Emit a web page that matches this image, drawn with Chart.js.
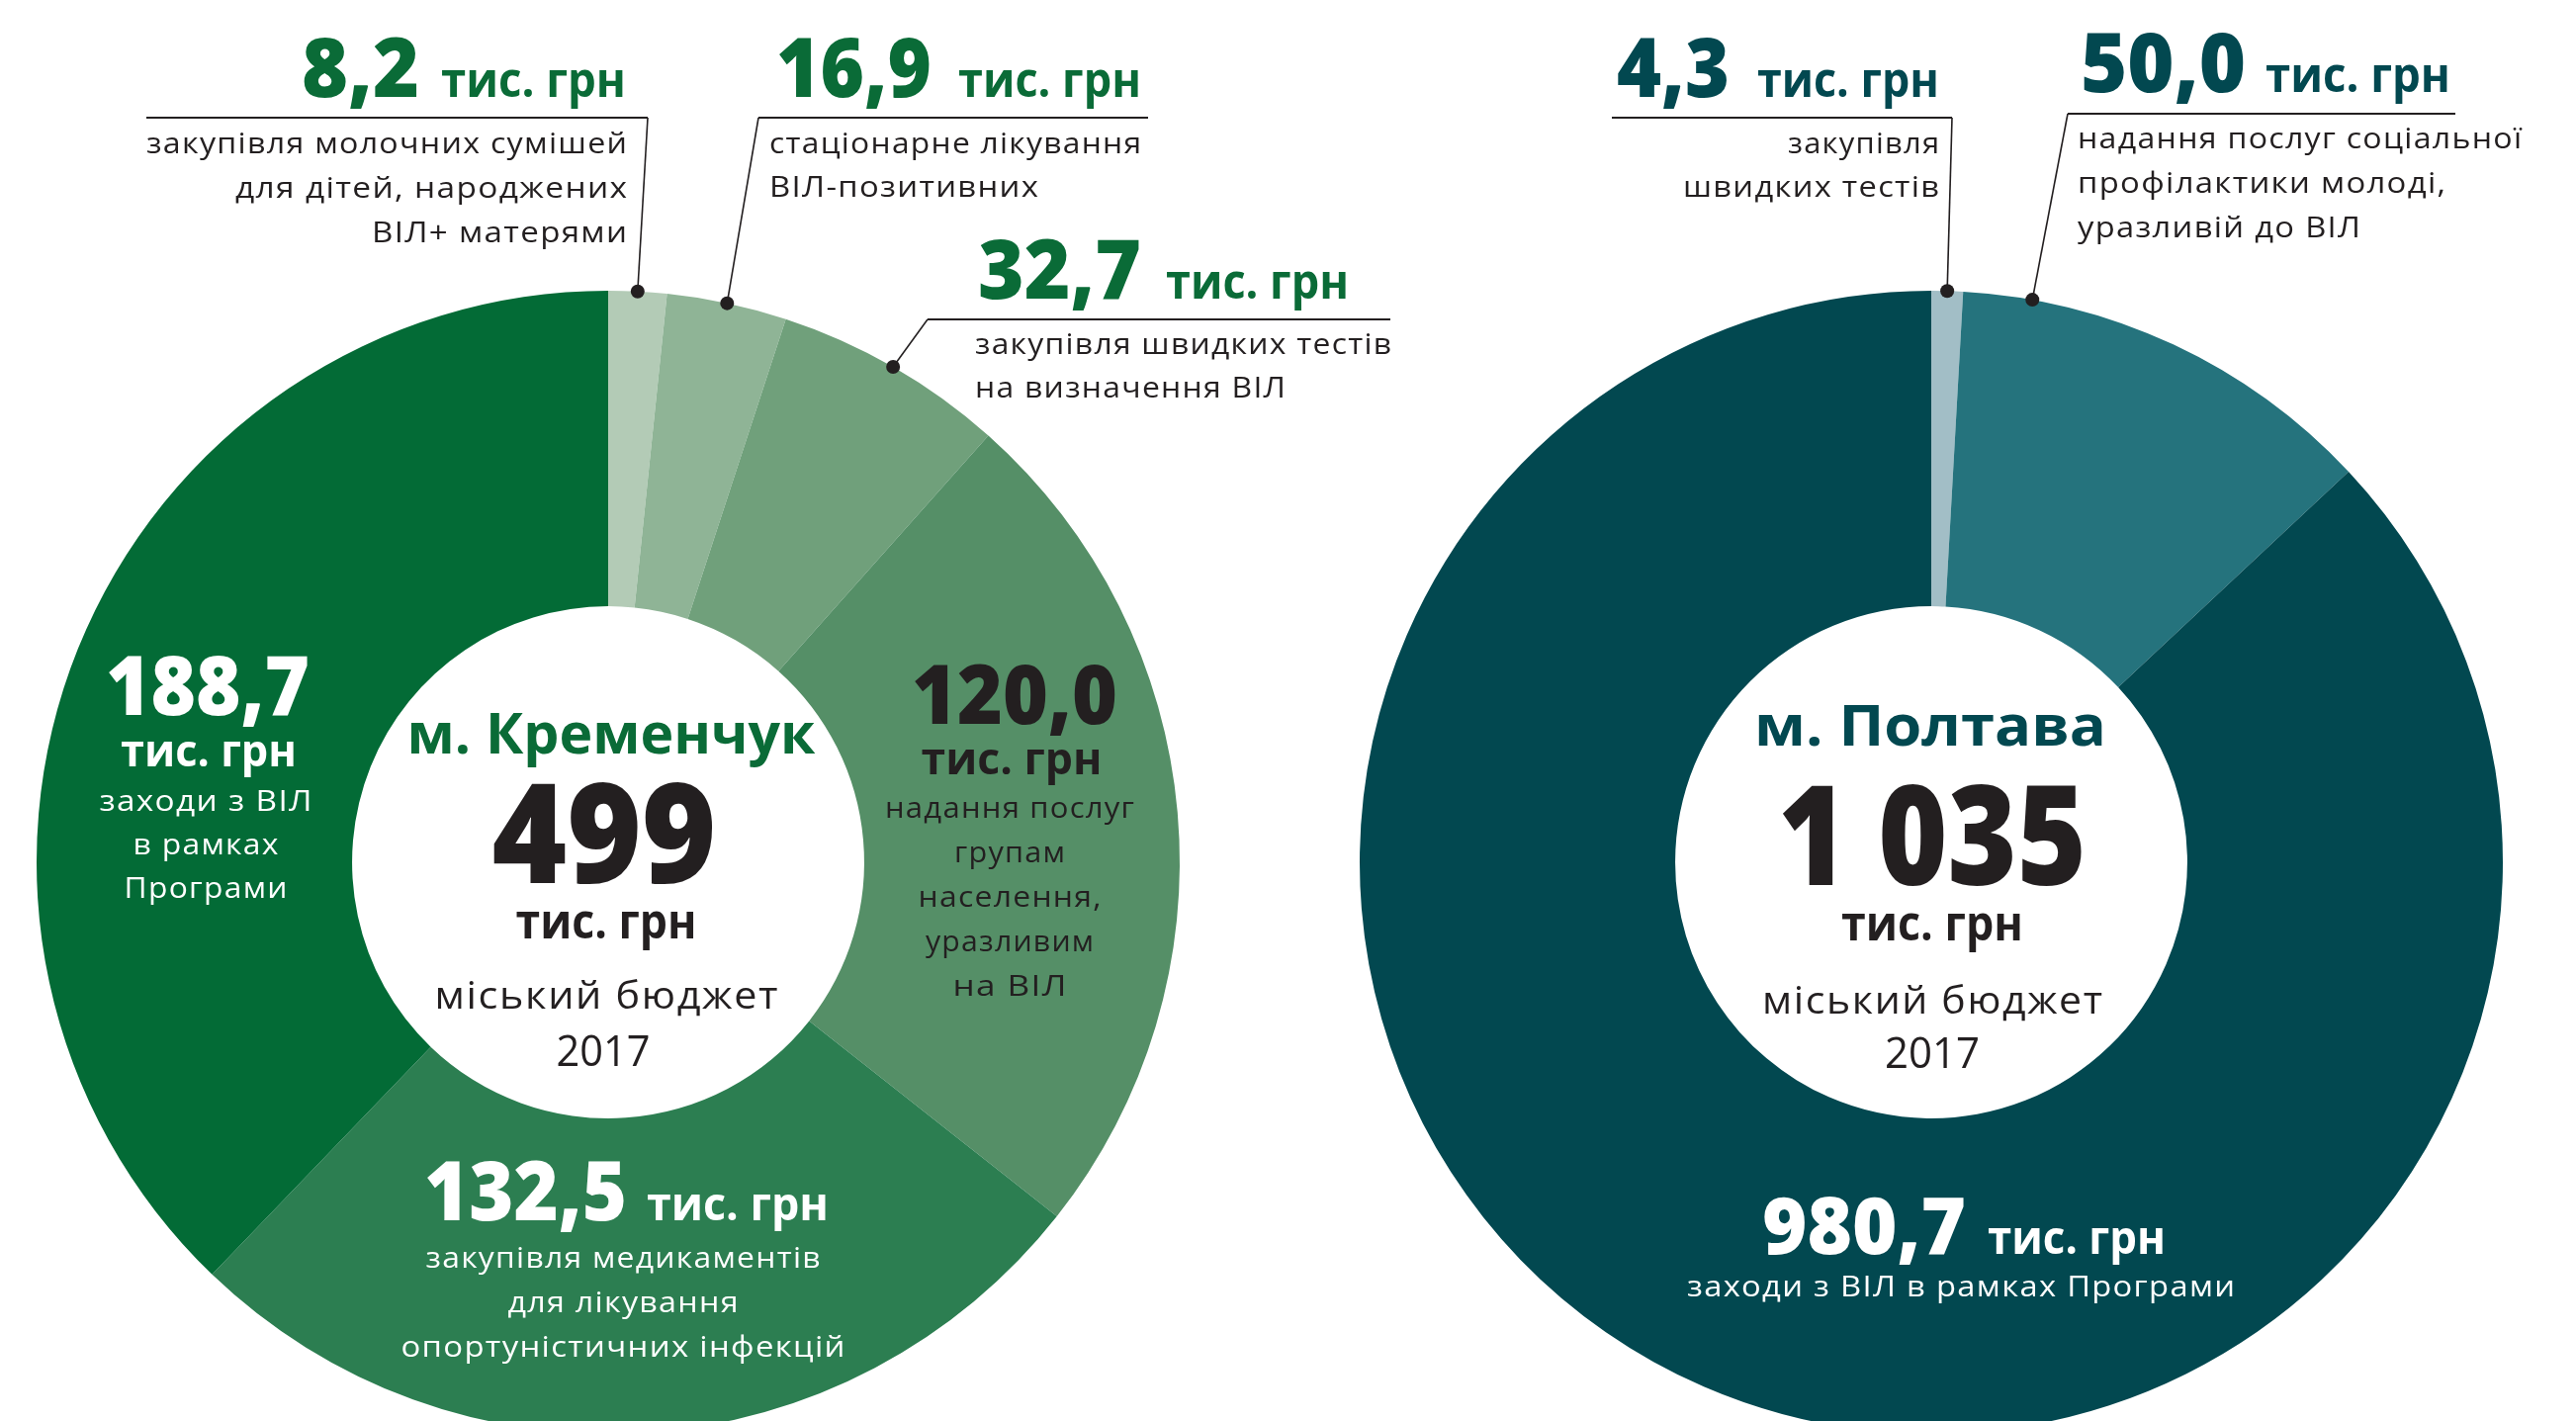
<!DOCTYPE html>
<html>
<head>
<meta charset="utf-8">
<script src="https://cdn.jsdelivr.net/npm/chart.js@4.4.1/dist/chart.umd.min.js"></script>
<style>
  html, body { margin: 0; padding: 0; background: #fff; overflow: hidden; }
  #page { position: relative; width: 2605px; height: 1437px; overflow: hidden; background: #fff; }
  canvas { position: absolute; top: 0; }
</style>
</head>
<body>
<div id="page">
  <canvas id="kremenchuk" width="1500" height="1500" style="left:0;width:1500px;height:1500px"></canvas>
  <canvas id="poltava" width="1305" height="1500" style="left:1300px;width:1305px;height:1500px"></canvas>
</div>
<script>
// ---- data ----
const cityNames = ['м. Кременчук', 'м. Полтава'];
const unitLabel = 'тис. грн';
const budgetLabel = 'міський бюджет';
const budgetYear = '2017';

const kremenchukCategories = [
  ['закупівля молочних сумішей', 'для дітей, народжених', 'ВІЛ+ матерями'],
  ['стаціонарне лікування', 'ВІЛ-позитивних'],
  ['закупівля швидких тестів', 'на визначення ВІЛ'],
  ['надання послуг', 'групам', 'населення,', 'уразливим', 'на ВІЛ'],
  ['закупівля медикаментів', 'для лікування', 'опортуністичних інфекцій'],
  ['заходи з ВІЛ', 'в рамках', 'Програми']
];
const kremenchukValues = [8.2, 16.9, 32.7, 120.0, 132.5, 188.7];

const poltavaCategories = [
  ['закупівля', 'швидких тестів'],
  ['надання послуг соціальної', 'профілактики молоді,', 'уразливій до ВІЛ'],
  ['заходи з ВІЛ в рамках Програми']
];
const poltavaValues = [4.3, 50.0, 980.7];
// the source draws Poltava's slices off-scale, so the arcs use the angles (degrees)
const poltavaArcShare = [3.2, 43.7, 313.1];

// ---- styles ----
const kremenchukColors = ['#b3cbb6', '#8fb496', '#70a07b', '#558f67', '#2c7e51', '#036b36'];
const poltavaColors = ['#a2bec6', '#25737d', '#024850'];
const GREEN = '#0a6b37', TEAL = '#024850', INK = '#231f20', WHITE = '#ffffff';
const FAMILY = '"Open Sans", "Noto Sans", "DejaVu Sans", sans-serif';

function fmt(v) { return v.toFixed(1).replace('.', ','); }
function fmtTotal(v) { return Math.round(v).toString().replace(/\B(?=(\d{3})+(?!\d))/g, ' '); }
function sum(a) { return a.reduce((s, v) => s + v, 0); }

// text fitted to the width it has in the source
function put(ctx, s, x, y, o) {
  ctx.save();
  ctx.font = (o.weight || (o.bold ? 700 : 500)) + ' ' + o.size + 'px ' + FAMILY;
  ctx.fillStyle = o.color;
  ctx.textBaseline = 'alphabetic';
  ctx.textAlign = 'left';
  let w0 = ctx.measureText(s).width;
  let sx = 1;
  if (o.w) {
    if (!o.bold && w0 < o.w && 'letterSpacing' in ctx && s.length > 1) {
      let ls = Math.min((o.w - w0) / (s.length - 1), o.size * 0.04);
      ctx.letterSpacing = ls + 'px';
      w0 = ctx.measureText(s).width - ls;
    }
    sx = o.w / w0;
  }
  let W = w0 * sx;
  let left = o.align === 'right' ? x - W : o.align === 'center' ? x - W / 2 : x;
  ctx.translate(left, y);
  ctx.scale(sx, 1);
  ctx.fillText(s, 0, 0);
  ctx.restore();
}

// ---- layout (page coordinates) ----
const kremenchukLayout = [
  { num: { x: 305, y: 98, w: 119, align: 'left', size: 84 }, unit: { x: 446, w: 187, size: 48 },
    lines: { x: 634, y: 155, gap: 45, align: 'right', w: [486, 396, 258] },
    rule: { y: 119, far: 148, near: 655 }, anchor: 0.5, numColor: GREEN, textColor: INK },
  { num: { x: 785, y: 98, w: 157, align: 'left', size: 84 }, unit: { x: 969, w: 185, size: 48 },
    lines: { x: 778, y: 155, gap: 44, align: 'left', w: [376, 272] },
    rule: { y: 119, far: 1161, near: 767 }, anchor: 0.5, numColor: GREEN, textColor: INK },
  { num: { x: 989, y: 302, w: 165, align: 'left', size: 84 }, unit: { x: 1179, w: 185, size: 48 },
    lines: { x: 986, y: 358, gap: 44, align: 'left', w: [421, 314] },
    rule: { y: 323, far: 1406, near: 938 }, anchor: 0.5, numColor: GREEN, textColor: INK },
  { num: { x: 1026, y: 732, w: 208, align: 'center', size: 84 }, unit: { x: 1023, y: 783, w: 183, size: 44, align: 'center' },
    lines: { x: 1021, y: 827, gap: 45, align: 'center', w: [252, 112, 185, 170, 115] },
    numColor: INK, textColor: INK },
  { num: { x: 429, y: 1234, w: 205, align: 'left', size: 84 }, unit: { x: 654, w: 184, size: 46 },
    lines: { x: 630, y: 1282, gap: 45, align: 'center', w: [399, 233, 449] },
    numColor: WHITE, textColor: WHITE },
  { num: { x: 210, y: 723, w: 206, align: 'center', size: 84 }, unit: { x: 211, y: 775, w: 178, size: 44, align: 'center' },
    lines: { x: 208, y: 820, gap: 44, align: 'center', w: [215, 147, 165] },
    numColor: WHITE, textColor: WHITE }
];

const poltavaLayout = [
  { num: { x: 1635, y: 98, w: 114, align: 'left', size: 84 }, unit: { x: 1777, w: 184, size: 48 },
    lines: { x: 1961, y: 155, gap: 44, align: 'right', w: [153, 259] },
    rule: { y: 119, far: 1630, near: 1974 }, anchor: 0.5, numColor: TEAL, textColor: INK },
  { num: { x: 2104, y: 93, w: 167, align: 'left', size: 84 }, unit: { x: 2291, w: 187, size: 48 },
    lines: { x: 2101, y: 150, gap: 45, align: 'left', w: [449, 372, 286] },
    rule: { y: 115, far: 2483, near: 2091 }, anchor: 0.16, numColor: TEAL, textColor: INK },
  { num: { x: 1782, y: 1268, w: 206, align: 'left', size: 80 }, unit: { x: 2010, w: 180, size: 46 },
    lines: { x: 1983, y: 1311, gap: 44, align: 'center', w: [554] },
    numColor: WHITE, textColor: WHITE }
];

const kremenchukCenter = {
  city: { x: 618, y: 762, w: 413, size: 58 }, total: { x: 611, y: 893, w: 227, size: 140 },
  unit: { x: 613, y: 949, w: 183, size: 48 }, budget: { x: 613, y: 1020, w: 347, size: 39 },
  year: { x: 610, y: 1078, w: 95, size: 43 }, cityColor: GREEN
};
const poltavaCenter = {
  city: { x: 1952, y: 754, w: 356, size: 58 }, total: { x: 1954, y: 895, w: 312, size: 140 },
  unit: { x: 1954, y: 951, w: 184, size: 48 }, budget: { x: 1954, y: 1025, w: 344, size: 39 },
  year: { x: 1954, y: 1080, w: 96, size: 43 }, cityColor: TEAL
};

function calloutPlugin(offsetX, categories, values, layout, center) {
  return {
    id: 'callouts',
    afterDraw(chart) {
      const ctx = chart.ctx;
      const arcs = chart.getDatasetMeta(0).data;
      ctx.save();
      ctx.translate(-offsetX, 0);
      // leader rules and dots
      layout.forEach((L, i) => {
        if (!L.rule) return;
        const a = arcs[i];
        const ang = a.startAngle + L.anchor * (a.endAngle - a.startAngle);
        const dx = offsetX + a.x + a.outerRadius * Math.cos(ang);
        const dy = a.y + a.outerRadius * Math.sin(ang);
        ctx.strokeStyle = INK;
        ctx.lineWidth = 2;
        ctx.beginPath();
        ctx.moveTo(L.rule.far, L.rule.y);
        ctx.lineTo(L.rule.near, L.rule.y);
        ctx.stroke();
        ctx.lineWidth = 1.6;
        ctx.beginPath();
        ctx.moveTo(L.rule.near, L.rule.y);
        ctx.lineTo(dx, dy);
        ctx.stroke();
        ctx.fillStyle = INK;
        ctx.beginPath();
        ctx.arc(dx, dy, 7, 0, Math.PI * 2);
        ctx.fill();
      });
      // amounts and descriptions
      layout.forEach((L, i) => {
        put(ctx, fmt(values[i]), L.num.x, L.num.y, { bold: true, weight: 800, size: L.num.size, w: L.num.w, align: L.num.align, color: L.numColor });
        put(ctx, unitLabel, L.unit.x, L.unit.y || L.num.y, { bold: true, size: L.unit.size, w: L.unit.w, align: L.unit.align || 'left', color: L.numColor });
        categories[i].forEach((line, j) => {
          put(ctx, line, L.lines.x, L.lines.y + j * L.lines.gap, { size: 30, w: L.lines.w[j], align: L.lines.align, color: L.textColor });
        });
      });
      // hole
      const c = center;
      put(ctx, c.name, c.city.x, c.city.y, { bold: true, size: c.city.size, w: c.city.w, align: 'center', color: c.cityColor });
      put(ctx, fmtTotal(sum(values)), c.total.x, c.total.y, { bold: true, weight: 800, size: c.total.size, w: c.total.w, align: 'center', color: INK });
      put(ctx, unitLabel, c.unit.x, c.unit.y, { bold: true, size: c.unit.size, w: c.unit.w, align: 'center', color: INK });
      put(ctx, budgetLabel, c.budget.x, c.budget.y, { size: c.budget.size, w: c.budget.w, align: 'center', color: INK });
      put(ctx, budgetYear, c.year.x, c.year.y, { size: c.year.size, w: c.year.w, align: 'center', color: INK });
      ctx.restore();
    }
  };
}

function makeChart(id, categories, arcValues, colors, padding, plugin) {
  return new Chart(document.getElementById(id), {
    type: 'doughnut',
    data: {
      labels: categories.map(l => l.join(' ')),
      datasets: [{ data: arcValues, backgroundColor: colors, borderWidth: 0, hoverOffset: 0, spacing: 0 }]
    },
    options: {
      responsive: false,
      animation: false,
      devicePixelRatio: 1,
      events: [],
      cutout: '44.8%',
      layout: { padding: padding },
      plugins: { legend: { display: false }, tooltip: { enabled: false } }
    },
    plugins: [plugin]
  });
}

kremenchukCenter.name = cityNames[0];
poltavaCenter.name = cityNames[1];

makeChart('kremenchuk', kremenchukCategories, kremenchukValues, kremenchukColors,
  { left: 37, right: 307, top: 294, bottom: 50 },
  calloutPlugin(0, kremenchukCategories, kremenchukValues, kremenchukLayout, kremenchukCenter));

makeChart('poltava', poltavaCategories, poltavaArcShare, poltavaColors,
  { left: 75, right: 74, top: 294, bottom: 50 },
  calloutPlugin(1300, poltavaCategories, poltavaValues, poltavaLayout, poltavaCenter));
</script>
</body>
</html>
